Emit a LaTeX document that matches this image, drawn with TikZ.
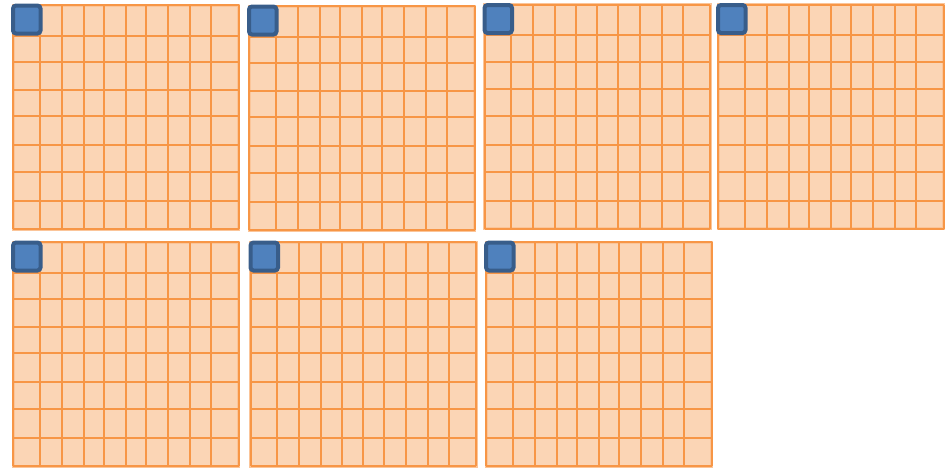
\documentclass[tikz,border=0pt]{standalone}
\definecolor{cellfill}{HTML}{FBD5B5}
\definecolor{gridline}{HTML}{F79646}
\definecolor{bluefill}{HTML}{4F81BD}
\definecolor{blueedge}{HTML}{385D8A}
\tikzset{
  gridbody/.style={fill=cellfill, draw=gridline!55, line width=3pt},
  gridln/.style={draw=gridline, line width=2pt},
  cornerbox/.style={fill=bluefill, draw=blueedge, line width=4pt, rounded corners=3pt}
}
\newcommand\mygrid[2]{%
  \begin{scope}[shift={(#1,#2)}]
    \draw[gridbody] (0,0) rectangle (225.5,224);
    \foreach \cx in {0,26.7,48.7,70.7,91.4,112.7,133.4,155.4,177.4,198,225.5}
      \draw[gridln] (\cx,0) -- (\cx,224);
    \foreach \cy in {0,30.7,57.3,84.7,111.3,140,167.3,196.3,224}
      \draw[gridln] (0,\cy) -- (225.5,\cy);
    \draw[cornerbox] (0,0.5) rectangle (27.5,28.5);
  \end{scope}}
\begin{document}
\begin{tikzpicture}[x=1pt,y=-1pt]
  \useasboundingbox (0,0) rectangle (947,467);
  \mygrid{13}{5}
  \mygrid{249}{6}
  \mygrid{484.5}{4.5}
  \mygrid{718}{4.5}
  \mygrid{13}{242}
  \mygrid{250.5}{242}
  \mygrid{486}{242}
\end{tikzpicture}
\end{document}
